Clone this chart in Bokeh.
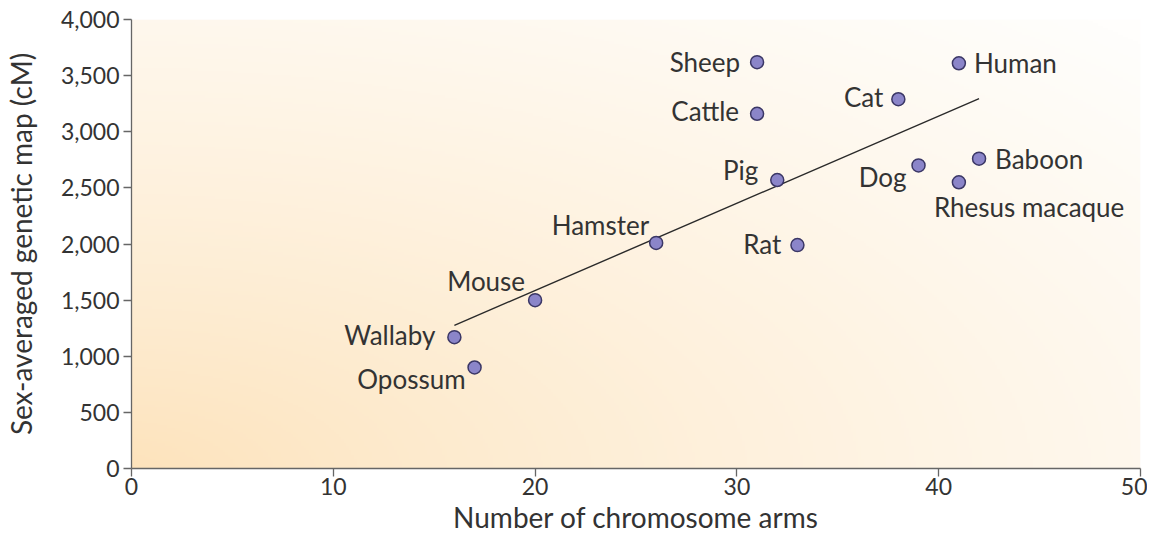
import numpy as np
from bokeh.plotting import figure
from bokeh.models import ColumnDataSource, NumeralTickFormatter, FixedTicker, Range1d
from bokeh.core.properties import value
from bokeh.embed import file_html
from bokeh.resources import INLINE

# ---- data ----
species = ["Sheep", "Human", "Cat", "Cattle", "Baboon", "Dog", "Pig",
           "Rhesus macaque", "Hamster", "Rat", "Mouse", "Wallaby", "Opossum"]
arms = [31, 41, 38, 31, 42, 39, 32, 41, 26, 33, 20, 16, 17]
map_cm = [3620, 3610, 3290, 3160, 2760, 2700, 2570, 2550, 2010, 1990, 1500, 1170, 900]
fit_x = [16, 42]
fit_y = [1275, 3295]
x_ticks = [0, 10, 20, 30, 40, 50]
y_ticks = [0, 500, 1000, 1500, 2000, 2500, 3000, 3500, 4000]

# label placement (style only, screen pixels)
lab_align = ["right", "left", "right", "right", "left", "right", "right",
             "left", "right", "right", "right", "right", "right"]
lab_dx = [-17, 15, -15, -18, 16, -12, -19, -25, -7, -16, -10, -19, -9]
lab_dy = [0, 0, -2, -3, 0, 12, -10, 25, -18, -1, -19, -2, 12]

FONT = "Lato"
TXT = "#333333"

p = figure(width=1147, height=539, output_backend="svg", toolbar_location=None,
           x_range=Range1d(0, 50), y_range=Range1d(0, 4000))
p.min_border_left = 130
p.min_border_right = 7
p.min_border_top = 19
p.min_border_bottom = 71
p.outline_line_color = None
p.grid.visible = False
p.background_fill_color = None
p.border_fill_color = "white"

# background gradient (radial from bottom-left)
ny, nx = 200, 400
u = np.linspace(0, 1, nx)[None, :]
v = np.linspace(0, 1, ny)[:, None]
d = np.sqrt((u + 0.03) ** 2 + (v + 0.03) ** 2) / 1.42
t = np.clip(d, 0, 1) ** 0.75
c0 = np.array([253, 225, 183])
c1 = np.array([255, 254, 252])
img = np.empty((ny, nx), dtype=np.uint32)
view = img.view(dtype=np.uint8).reshape((ny, nx, 4))
for k in range(3):
    view[:, :, k] = (c0[k] + (c1[k] - c0[k]) * t).astype(np.uint8)
view[:, :, 3] = 255
p.image_rgba(image=[img], x=0, y=0, dw=50, dh=4000)

# regression line
p.line(fit_x, fit_y, line_color="#2a2a2a", line_width=1.4)

src = ColumnDataSource(dict(x=arms, y=map_cm, name=species, align=lab_align,
                            dx=lab_dx, dy=lab_dy))
p.scatter("x", "y", source=src, size=13, fill_color="#8b85c9",
          line_color="#3b3766", line_width=1.5)
p.text("x", "y", text="name", source=src, text_align="align", text_baseline="middle",
       x_offset="dx", y_offset="dy", text_font=value(FONT),
       text_font_size="26px", text_color=TXT)

for ax in (p.xaxis, p.yaxis):
    ax.axis_line_color = "#666666"
    ax.axis_line_width = 1.3
    ax.major_tick_line_color = "#666666"
    ax.major_tick_line_width = 1.3
    ax.major_tick_in = 0
    ax.major_tick_out = 8
    ax.minor_tick_line_color = None
    ax.major_label_text_font = FONT
    ax.major_label_text_font_size = "23px"
    ax.major_label_text_color = TXT
    ax.axis_label_text_font = FONT
    ax.axis_label_text_font_size = "28px"
    ax.axis_label_text_font_style = "normal"
    ax.axis_label_text_color = TXT

p.xaxis.ticker = FixedTicker(ticks=x_ticks)
p.yaxis.ticker = FixedTicker(ticks=y_ticks)
p.yaxis.formatter = NumeralTickFormatter(format="0,0")
p.xaxis.axis_label = "Number of chromosome arms"
p.yaxis.axis_label = "Sex-averaged genetic map (cM)"
p.xaxis.major_label_standoff = 1
p.xaxis.axis_label_standoff = 2
p.yaxis.major_label_standoff = 4
p.yaxis.axis_label_standoff = 20

open("out.html", "w").write(file_html(p, INLINE))
